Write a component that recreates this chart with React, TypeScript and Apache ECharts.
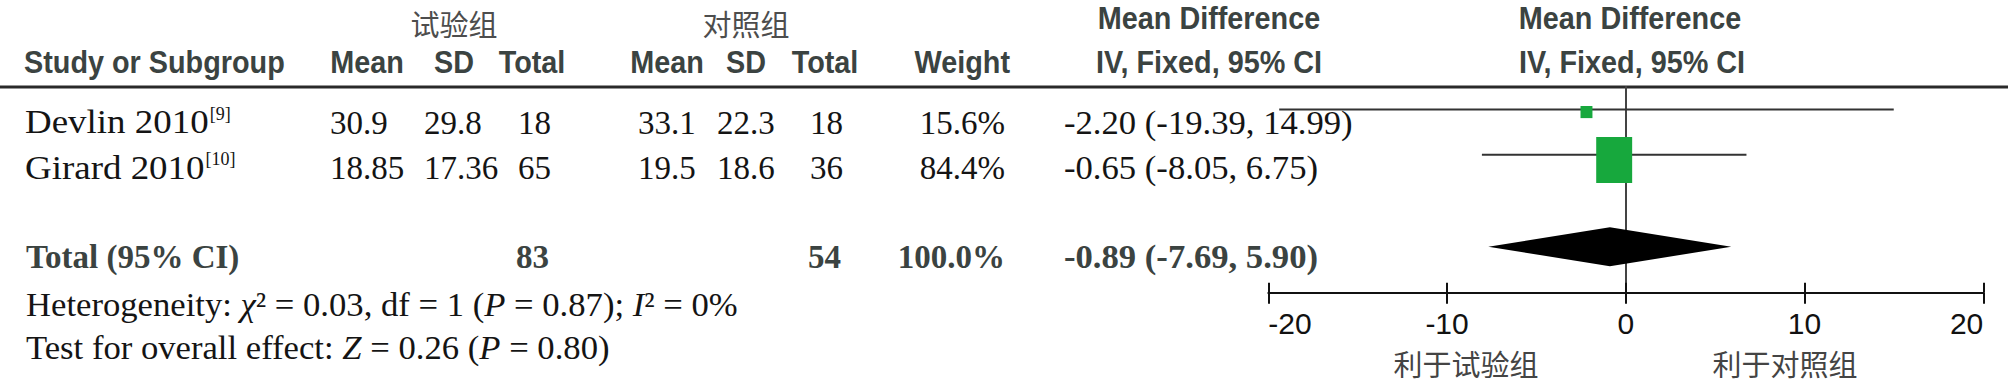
import React, { useEffect, useRef } from "react";
import * as echarts from "echarts";

// ---------- data ----------
const groupHeaders = ["试验组", "对照组"];
const studies = ["Devlin 2010", "Girard 2010"];
const studyRefs = ["[9]", "[10]"];
const expMean = ["30.9", "18.85"];
const expSD = ["29.8", "17.36"];
const expTotal = [18, 65];
const ctrlMean = ["33.1", "19.5"];
const ctrlSD = ["22.3", "18.6"];
const ctrlTotal = [18, 36];
const weights = [15.6, 84.4];
const meanDiff = [-2.2, -0.65];
const ciLow = [-19.39, -8.05];
const ciHigh = [14.99, 6.75];
const totalExp = 83;
const totalCtrl = 54;
const totalWeight = 100.0;
const pooled = [-0.89, -7.69, 5.9]; // estimate, low, high
const heterogeneity = { chi2: "0.03", df: "1", p: "0.87", i2: "0" };
const overallEffect = { z: "0.26", p: "0.80" };
const axisMin = -20;
const axisMax = 20;
const axisStep = 10;
const favourLabels = ["利于试验组", "利于对照组"];

// ---------- fonts / styles ----------
const SANS = '"Liberation Sans", Arial, sans-serif';
const SERIF = '"Liberation Serif", "Times New Roman", serif';
const CJK = '"Noto Sans CJK SC", sans-serif';
const HEAD = "#3b4341";
const BODY = "#141414";

const fmt2 = (v: number) => v.toFixed(2);
const ciText = (m: number, lo: number, hi: number) => `${fmt2(m)} (${fmt2(lo)}, ${fmt2(hi)})`;

let measureCtx: CanvasRenderingContext2D | null = null;
const measure = (text: string, font: string) => {
  if (!measureCtx) measureCtx = document.createElement("canvas").getContext("2d");
  measureCtx!.font = font;
  return measureCtx!.measureText(text).width;
};

const txt = (
  text: string,
  x: number,
  y: number,
  font: string,
  fill: string,
  align: string = "left",
  extra: any = {}
) => ({
  type: "text",
  x,
  y,
  silent: true,
  ...extra,
  style: { text, font, fill, align, verticalAlign: "middle", ...(extra.style || {}) },
});

export default function App() {
  const ref = useRef<HTMLDivElement>(null);

  useEffect(() => {
    if (!ref.current) return;
    const chart = echarts.init(ref.current, undefined, { renderer: "svg" });

    const headFont = `bold 32px ${SANS}`;
    const bodyFont = `33px ${SERIF}`;
    const boldSerif = `bold 33px ${SERIF}`;
    const italicSerif = { fontStyle: "italic", fontSize: 33, fontFamily: SERIF, fill: BODY };
    const supFont = `18px ${SERIF}`;
    const cjkTop = `29px ${CJK}`;
    const cjkBottom = `29px ${CJK}`;

    const hy1 = 18;
    const hy2 = 61.5;
    const rowY = [122.5, 168];
    const totalY = 256.5;
    const condensed = { scaleX: 0.9 };
    const nameScale = 1.12;
    const sentScale = 1.05;

    const col = {
      name: 25,
      eMean: 330,
      eSD: 424,
      eTot: 518,
      cMean: 638,
      cSD: 717,
      cTot: 810,
      weightR: 1005,
      ci: 1064,
    };

    const graphic: any[] = [];
    // group headers
    graphic.push(txt(groupHeaders[0], 454, 22.5, cjkTop, "#4d4d4d", "center"));
    graphic.push(txt(groupHeaders[1], 746, 22.5, cjkTop, "#4d4d4d", "center"));
    graphic.push(txt("Mean Difference", 1209, hy1 - 1, headFont, HEAD, "center", condensed));
    graphic.push(txt("Mean Difference", 1630, hy1 - 1, headFont, HEAD, "center", condensed));
    // column headers
    graphic.push(txt("Study or Subgroup", col.name - 1, hy2, headFont, HEAD, "left", condensed));
    graphic.push(txt("Mean", 367, hy2, headFont, HEAD, "center", condensed));
    graphic.push(txt("SD", 454, hy2, headFont, HEAD, "center", condensed));
    graphic.push(txt("Total", 532, hy2, headFont, HEAD, "center", condensed));
    graphic.push(txt("Mean", 667, hy2, headFont, HEAD, "center", condensed));
    graphic.push(txt("SD", 746, hy2, headFont, HEAD, "center", condensed));
    graphic.push(txt("Total", 825, hy2, headFont, HEAD, "center", condensed));
    graphic.push(txt("Weight", 1010, hy2, headFont, HEAD, "right", condensed));
    graphic.push(txt("IV, Fixed, 95% CI", 1209, hy2, headFont, HEAD, "center", condensed));
    graphic.push(txt("IV, Fixed, 95% CI", 1632, hy2, headFont, HEAD, "center", condensed));
    // header rule
    graphic.push({
      type: "line",
      silent: true,
      shape: { x1: 0, y1: 87, x2: 2008, y2: 87 },
      style: { stroke: "#2a2a2a", lineWidth: 3 },
    });

    // study rows
    studies.forEach((s, i) => {
      const y = rowY[i];
      graphic.push(txt(s, col.name, y, bodyFont, BODY, "left", { scaleX: nameScale }));
      const w = measure(s, bodyFont) * nameScale;
      graphic.push(txt(studyRefs[i], col.name + w + 1, y - 9, supFont, BODY));
      graphic.push(txt(expMean[i], col.eMean, y, bodyFont, BODY));
      graphic.push(txt(expSD[i], col.eSD, y, bodyFont, BODY));
      graphic.push(txt(String(expTotal[i]), col.eTot, y, bodyFont, BODY));
      graphic.push(txt(ctrlMean[i], col.cMean, y, bodyFont, BODY));
      graphic.push(txt(ctrlSD[i], col.cSD, y, bodyFont, BODY));
      graphic.push(txt(String(ctrlTotal[i]), col.cTot, y, bodyFont, BODY));
      graphic.push(txt(`${weights[i].toFixed(1)}%`, col.weightR, y, bodyFont, BODY, "right"));
      graphic.push(
        txt(ciText(meanDiff[i], ciLow[i], ciHigh[i]), col.ci, y, bodyFont, BODY, "left", { scaleX: sentScale })
      );
    });

    // total row
    graphic.push(txt("Total (95% CI)", col.name + 1, totalY, boldSerif, HEAD));
    graphic.push(txt(String(totalExp), col.eTot - 2, totalY, boldSerif, HEAD));
    graphic.push(txt(String(totalCtrl), col.cTot - 2, totalY, boldSerif, HEAD));
    graphic.push(txt(`${totalWeight.toFixed(1)}%`, col.weightR, totalY, boldSerif, HEAD, "right"));
    graphic.push(
      txt(ciText(pooled[0], pooled[1], pooled[2]), col.ci, totalY, boldSerif, HEAD, "left", { scaleX: 1.05 })
    );

    // heterogeneity & overall effect
    graphic.push(
      txt(
        `Heterogeneity: {i|χ}² = ${heterogeneity.chi2}, df = ${heterogeneity.df} ({i|P} = ${heterogeneity.p}); {i|I}² = ${heterogeneity.i2}%`,
        col.name + 1,
        305,
        bodyFont,
        BODY,
        "left",
        { scaleX: sentScale, style: { rich: { i: italicSerif } } }
      )
    );
    graphic.push(
      txt(
        `Test for overall effect: {i|Z} = ${overallEffect.z} ({i|P} = ${overallEffect.p})`,
        col.name + 1,
        348,
        bodyFont,
        BODY,
        "left",
        { scaleX: sentScale, style: { rich: { i: italicSerif } } }
      )
    );

    // favour labels
    graphic.push(txt(favourLabels[0], 1466, 362.5, cjkBottom, "#444", "center"));
    graphic.push(txt(favourLabels[1], 1785, 362.5, cjkBottom, "#444", "center"));

    const axisCommon = {
      type: "value",
      min: axisMin,
      max: axisMax,
      interval: axisStep,
      position: "bottom",
      splitLine: { show: false },
    };

    const option: any = {
      animation: false,
      grid: { left: 1268.3, right: 24.7, top: 87, bottom: 91.3, containLabel: false },
      xAxis: [
        {
          ...axisCommon,
          axisLine: { show: true, onZero: false, lineStyle: { color: "#111", width: 2 } },
          axisTick: { show: true, length: 11, lineStyle: { color: "#111", width: 2 } },
          axisLabel: {
            show: true,
            margin: 15,
            fontSize: 30,
            lineHeight: 32,
            fontFamily: '"Liberation Sans Narrow", "Arial Narrow", "Liberation Sans", Arial, sans-serif',
            color: "#111",
            alignMinLabel: "left",
            alignMaxLabel: "right",
          },
        },
        {
          ...axisCommon,
          axisLine: { show: false, onZero: false },
          axisTick: { show: true, inside: true, length: 10, lineStyle: { color: "#111", width: 2 } },
          axisLabel: { show: false },
        },
      ],
      yAxis: {
        type: "value",
        min: -0.5,
        max: 4.05,
        inverse: true,
        axisLine: { show: true, onZero: true, lineStyle: { color: "#444", width: 2 } },
        axisTick: { show: false },
        axisLabel: { show: false },
        splitLine: { show: false },
      },
      series: [
        {
          type: "custom",
          name: "ci",
          xAxisIndex: 0,
          clip: false,
          encode: { x: [0, 1], y: 2 },
          data: studies.map((_, i) => [ciLow[i], ciHigh[i], i]),
          renderItem: (_p: any, api: any) => {
            const a = api.coord([api.value(0), api.value(2)]);
            const b = api.coord([api.value(1), api.value(2)]);
            return {
              type: "line",
              shape: { x1: a[0], y1: a[1], x2: b[0], y2: b[1] },
              style: { stroke: "#333", lineWidth: 2 },
            };
          },
        },
        {
          type: "custom",
          name: "md",
          xAxisIndex: 0,
          clip: false,
          encode: { x: 0, y: 1 },
          data: studies.map((_, i) => [meanDiff[i], i, weights[i]]),
          renderItem: (_p: any, api: any) => {
            const c = api.coord([api.value(0), api.value(1)]);
            const wt = api.value(2);
            const w = 6.5 + 0.349 * wt;
            const h = 4.4 + 0.493 * wt;
            const off = 0.08 * h + 1.5;
            return {
              type: "rect",
              shape: { x: c[0] - w / 2, y: c[1] - h / 2 + off, width: w, height: h },
              style: { fill: "#17a83d" },
            };
          },
        },
        {
          type: "custom",
          name: "pooled",
          xAxisIndex: 0,
          clip: false,
          encode: { x: [0, 1, 2], y: 3 },
          data: [[pooled[0], pooled[1], pooled[2], 3]],
          renderItem: (_p: any, api: any) => {
            const row = api.value(3);
            const e = api.coord([api.value(0), row]);
            const l = api.coord([api.value(1), row]);
            const r = api.coord([api.value(2), row]);
            const off = 1.5;
            const hh = 19.5;
            return {
              type: "polygon",
              shape: {
                points: [
                  [l[0], l[1] + off],
                  [e[0], e[1] + off - hh],
                  [r[0], r[1] + off],
                  [e[0], e[1] + off + hh],
                ],
              },
              style: { fill: "#000" },
            };
          },
        },
      ],
      graphic,
    };

    chart.setOption(option);
    return () => chart.dispose();
  }, []);

  return (
    <div
      ref={ref}
      style={{ position: "absolute", left: 0, top: 0, width: 2008, height: 384, background: "#fff" }}
    />
  );
}
